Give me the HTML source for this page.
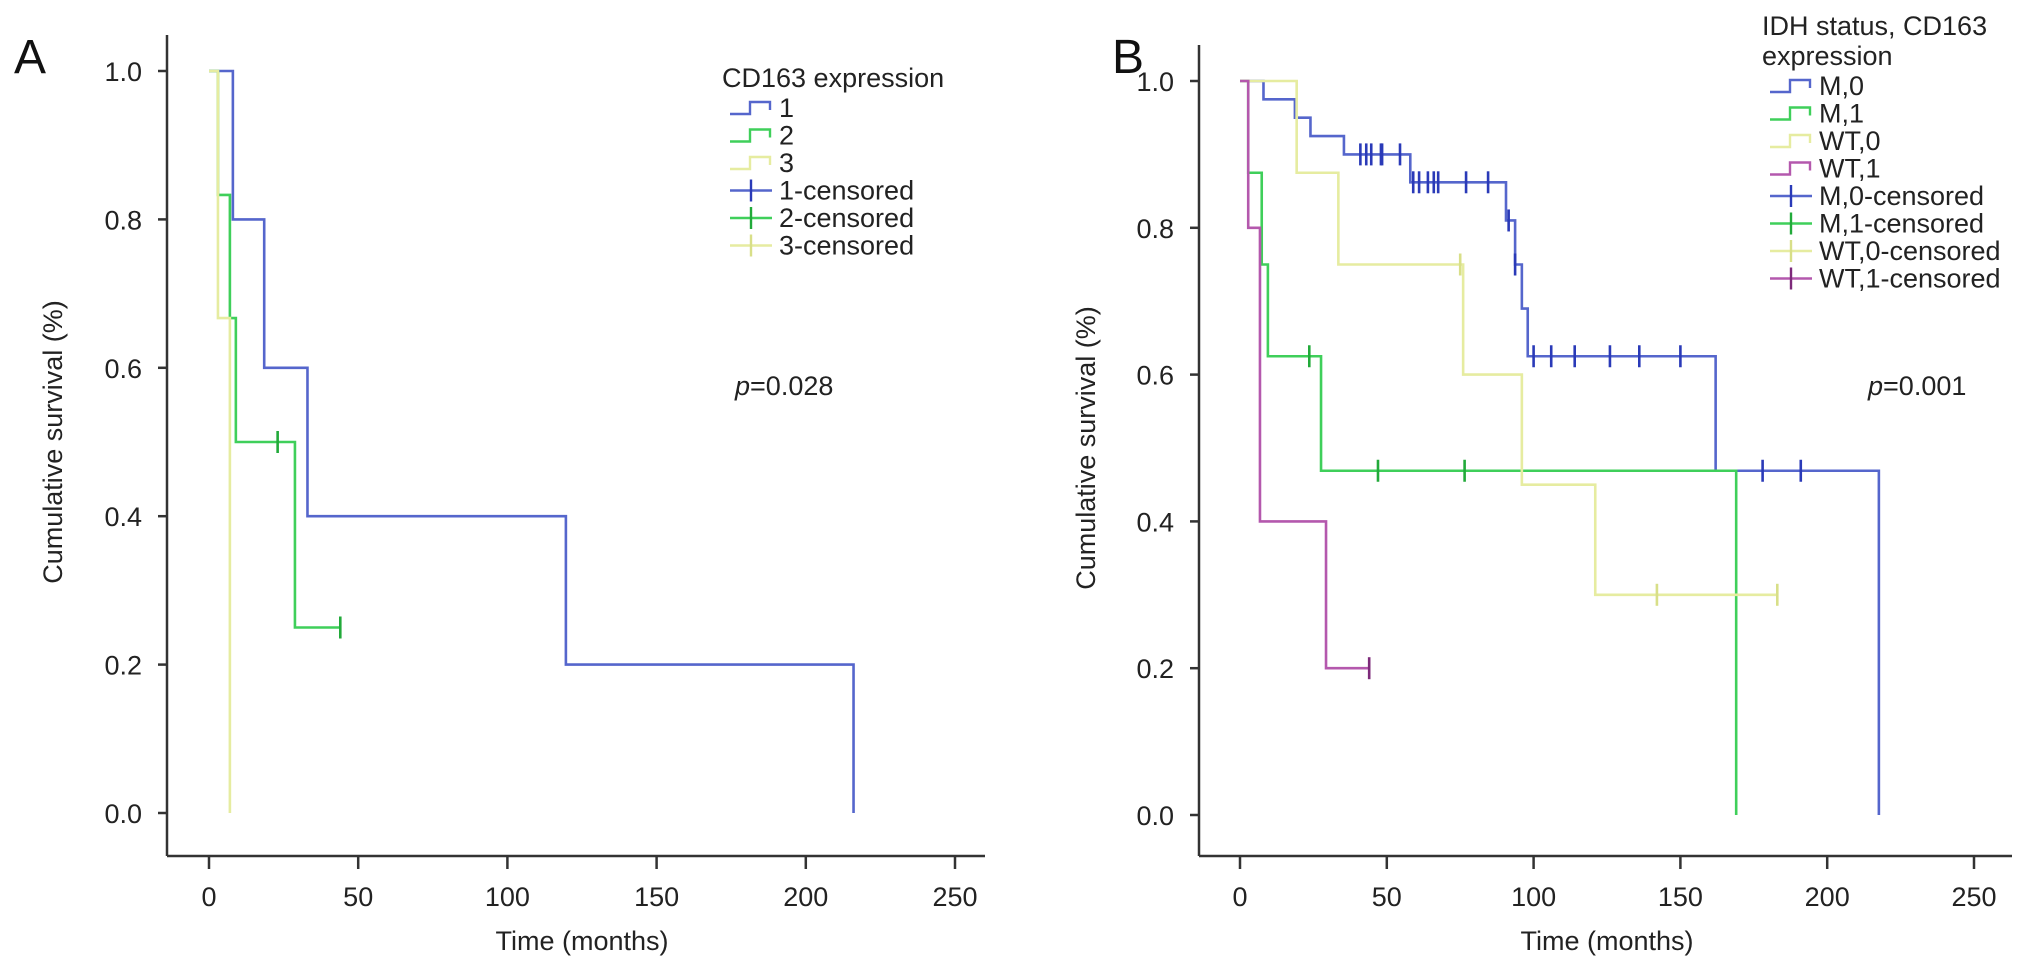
<!DOCTYPE html>
<html><head><meta charset="utf-8"><style>
html,body{margin:0;padding:0;background:#fff;}
svg{display:block;font-family:"Liberation Sans",Arial,sans-serif;}
</style></head><body>
<svg id="chart" width="2032" height="969" viewBox="0 0 2032 969" xmlns="http://www.w3.org/2000/svg"></svg>
<script>
// ---------- Panel A data ----------
const aSeriesNames = ["1","2","3"];
const aSteps1 = [[0,1.0],[8,0.8],[18.5,0.6],[33,0.4],[119.6,0.2],[216,0.0]];
const aSteps2 = [[0,1.0],[3,0.833],[7,0.667],[9,0.5],[28.8,0.25]];
const aSteps3 = [[0,1.0],[3,0.667],[7,0.0]];
const aEnd1 = 216, aEnd2 = 44, aEnd3 = 7;
const aCens1 = [];
const aCens2 = [[23,0.5],[44,0.25]];
const aCens3 = [];
// ---------- Panel B data ----------
const bSeriesNames = ["M,0","M,1","WT,0","WT,1"];
const bStepsM0 = [[0,1.0],[8,0.975],[18.7,0.95],[24,0.925],[35.4,0.9],[58,0.862],[90.6,0.81],[93.7,0.75],[96,0.69],[98,0.625],[162,0.469],[217.6,0.0]];
const bStepsM1 = [[0,1.0],[2.8,0.875],[7.4,0.75],[9.5,0.625],[27.6,0.469],[169,0.0]];
const bStepsWT0 = [[0,1.0],[19.3,0.875],[33.5,0.75],[76,0.6],[96,0.45],[121,0.3]];
const bStepsWT1 = [[0,1.0],[2.8,0.8],[6.8,0.4],[29.3,0.2]];
const bEndM0 = 217.6, bEndM1 = 169, bEndWT0 = 183, bEndWT1 = 44;
const bCensM0 = [[41,0.9],[43,0.9],[44.7,0.9],[48,0.9],[48.4,0.9],[54.5,0.9],[59,0.862],[61,0.862],[64,0.862],[66,0.862],[67.5,0.862],[77,0.862],[84.5,0.862],[91.5,0.81],[93.7,0.75],[100,0.625],[106,0.625],[114,0.625],[126,0.625],[136,0.625],[150,0.625],[178,0.469],[191,0.469]];
const bCensM1 = [[23.6,0.625],[47,0.469],[76.5,0.469]];
const bCensWT0 = [[75,0.75],[142,0.3],[183,0.3]];
const bCensWT1 = [[44,0.2]];
const xTicks = [0,50,100,150,200,250];
const yTicks = [0.0,0.2,0.4,0.6,0.8,1.0];

const NS="http://www.w3.org/2000/svg";
const svg=document.getElementById('chart');
function mk(tag,attrs,parent){const e=document.createElementNS(NS,tag);for(const k in attrs)e.setAttribute(k,attrs[k]);(parent||svg).appendChild(e);return e;}
function txt(s,attrs,parent){const e=mk('text',attrs,parent);e.textContent=s;return e;}

const COL={blue:"#5566cc",green:"#3fcf5a",yellow:"#e6eca0",purple:"#b458ad"};
const CEN={blue:"#2a3ab8",green:"#22aa3a",yellow:"#d8df88",purple:"#7d2a7a"};

function panel(cfg){
  const g=mk('g',{});
  
  
  const X=t=>cfg.x0+t*cfg.xs;
  const Y=s=>cfg.y0-s*(cfg.y0-cfg.y1);
  const ax=mk('g',{},g);
  
  mk('line',{x1:cfg.ax,y1:cfg.axTop,x2:cfg.ax,y2:cfg.ay,stroke:"#333","stroke-width":2.5},ax);
  yTicks.forEach(v=>{
    mk('line',{x1:cfg.ax-9,y1:Y(v),x2:cfg.ax,y2:Y(v),stroke:"#333","stroke-width":2.5},ax);
    const t=txt(v.toFixed(1),{x:cfg.ax-25,y:Y(v)+10,"font-size":27,"text-anchor":"end",fill:"#222"},ax);
    
  });
  const xa=mk('g',{},g);
  
  mk('line',{x1:cfg.ax,y1:cfg.ay,x2:cfg.axRight,y2:cfg.ay,stroke:"#333","stroke-width":2.5},xa);
  xTicks.forEach(v=>{
    mk('line',{x1:X(v),y1:cfg.ay,x2:X(v),y2:cfg.ay+13,stroke:"#333","stroke-width":2.5},xa);
    const t=txt(String(v),{x:X(v),y:906,"font-size":27,"text-anchor":"middle",fill:"#222"},xa);
    
  });
  const xt=txt("Time (months)",{x:(X(0)+X(250))/2,y:950,"font-size":27,"text-anchor":"middle",fill:"#222"},g);
  
  const yt=txt("Cumulative survival (%)",{x:0,y:0,"font-size":27,"text-anchor":"middle",fill:"#222",transform:`translate(${cfg.ytx},${(Y(0)+Y(1))/2}) rotate(-90)`},g);
  
  const pl=txt("",{x:cfg.labelX,y:73,"font-size":48,fill:"#111"},g);pl.textContent=cfg.label;
  
  const pv=mk('text',{x:cfg.px,y:395,"font-size":27,fill:"#222"},g);
  
  const it=mk('tspan',{"font-style":"italic"},pv);it.textContent="p";
  const rest=mk('tspan',{},pv);rest.textContent="="+cfg.p;
  cfg.series.forEach(s=>{
    let d="";
    s.steps.forEach((p,i)=>{
      if(i===0){d+=`M${X(p[0])},${Y(p[1])}`;}
      else{d+=` H${X(p[0])} V${Y(p[1])}`;}
    });
    const last=s.steps[s.steps.length-1];
    if(s.end>last[0]) d+=` H${X(s.end)}`;
    const path=mk('path',{d:d,fill:"none",stroke:COL[s.color],"stroke-width":2.6},g);
    
    
    s.cens.forEach(c=>{
      const m=mk('line',{x1:X(c[0]),y1:Y(c[1])-11,x2:X(c[0]),y2:Y(c[1])+11,stroke:CEN[s.color],"stroke-width":2.6},g);
      
      
    });
  });
  const lg=mk('g',{},g);
  
  cfg.legendTitle.forEach((l,i)=>txt(l,{x:cfg.lx,y:cfg.ly+i*30,"font-size":27,fill:"#222"},lg));
  let y=cfg.ly+(cfg.legendTitle.length-1)*30+30;
  const sx=cfg.lx+8;
  cfg.series.forEach(s=>{
    const e=mk('g',{},lg);
    
    const cy=y-9;
    mk('path',{d:`M${sx},${cy+6} H${sx+20} V${cy-6} H${sx+40} V${cy+2}`,fill:"none",stroke:COL[s.color],"stroke-width":2.4},e);
    txt(s.name,{x:cfg.lx+57,y:y,"font-size":27,fill:"#222"},e);
    y+=27.5;
  });
  cfg.series.forEach(s=>{
    const e=mk('g',{},lg);
    
    const cy=y-9;
    mk('line',{x1:sx,y1:cy,x2:sx+42,y2:cy,stroke:COL[s.color],"stroke-width":2.4},e);
    mk('line',{x1:sx+21,y1:cy-11,x2:sx+21,y2:cy+11,stroke:CEN[s.color],"stroke-width":2.4},e);
    txt(s.name+"-censored",{x:cfg.lx+57,y:y,"font-size":27,fill:"#222"},e);
    y+=27.5;
  });
}

panel({name:"panel-a",label:"A",labelX:14,x0:209,xs:2.984,y0:813,y1:71,ax:167,ay:856,axTop:35,axRight:985,ytx:62,px:735,p:"0.028",
  lx:722,ly:87,legendTitle:["CD163 expression"],
  series:[
    {key:"1",name:aSeriesNames[0],color:"blue",steps:aSteps1,end:aEnd1,cens:aCens1},
    {key:"2",name:aSeriesNames[1],color:"green",steps:aSteps2,end:aEnd2,cens:aCens2},
    {key:"3",name:aSeriesNames[2],color:"yellow",steps:aSteps3,end:aEnd3,cens:aCens3}
  ]});
panel({name:"panel-b",label:"B",labelX:1112,x0:1240,xs:2.936,y0:815,y1:81,ax:1199,ay:856,axTop:45,axRight:2012,ytx:1095,px:1868,p:"0.001",
  lx:1762,ly:35,legendTitle:["IDH status, CD163","expression"],
  series:[
    {key:"m0",name:bSeriesNames[0],color:"blue",steps:bStepsM0,end:bEndM0,cens:bCensM0},
    {key:"m1",name:bSeriesNames[1],color:"green",steps:bStepsM1,end:bEndM1,cens:bCensM1},
    {key:"wt0",name:bSeriesNames[2],color:"yellow",steps:bStepsWT0,end:bEndWT0,cens:bCensWT0},
    {key:"wt1",name:bSeriesNames[3],color:"purple",steps:bStepsWT1,end:bEndWT1,cens:bCensWT1}
  ]});
</script>
</body></html>
